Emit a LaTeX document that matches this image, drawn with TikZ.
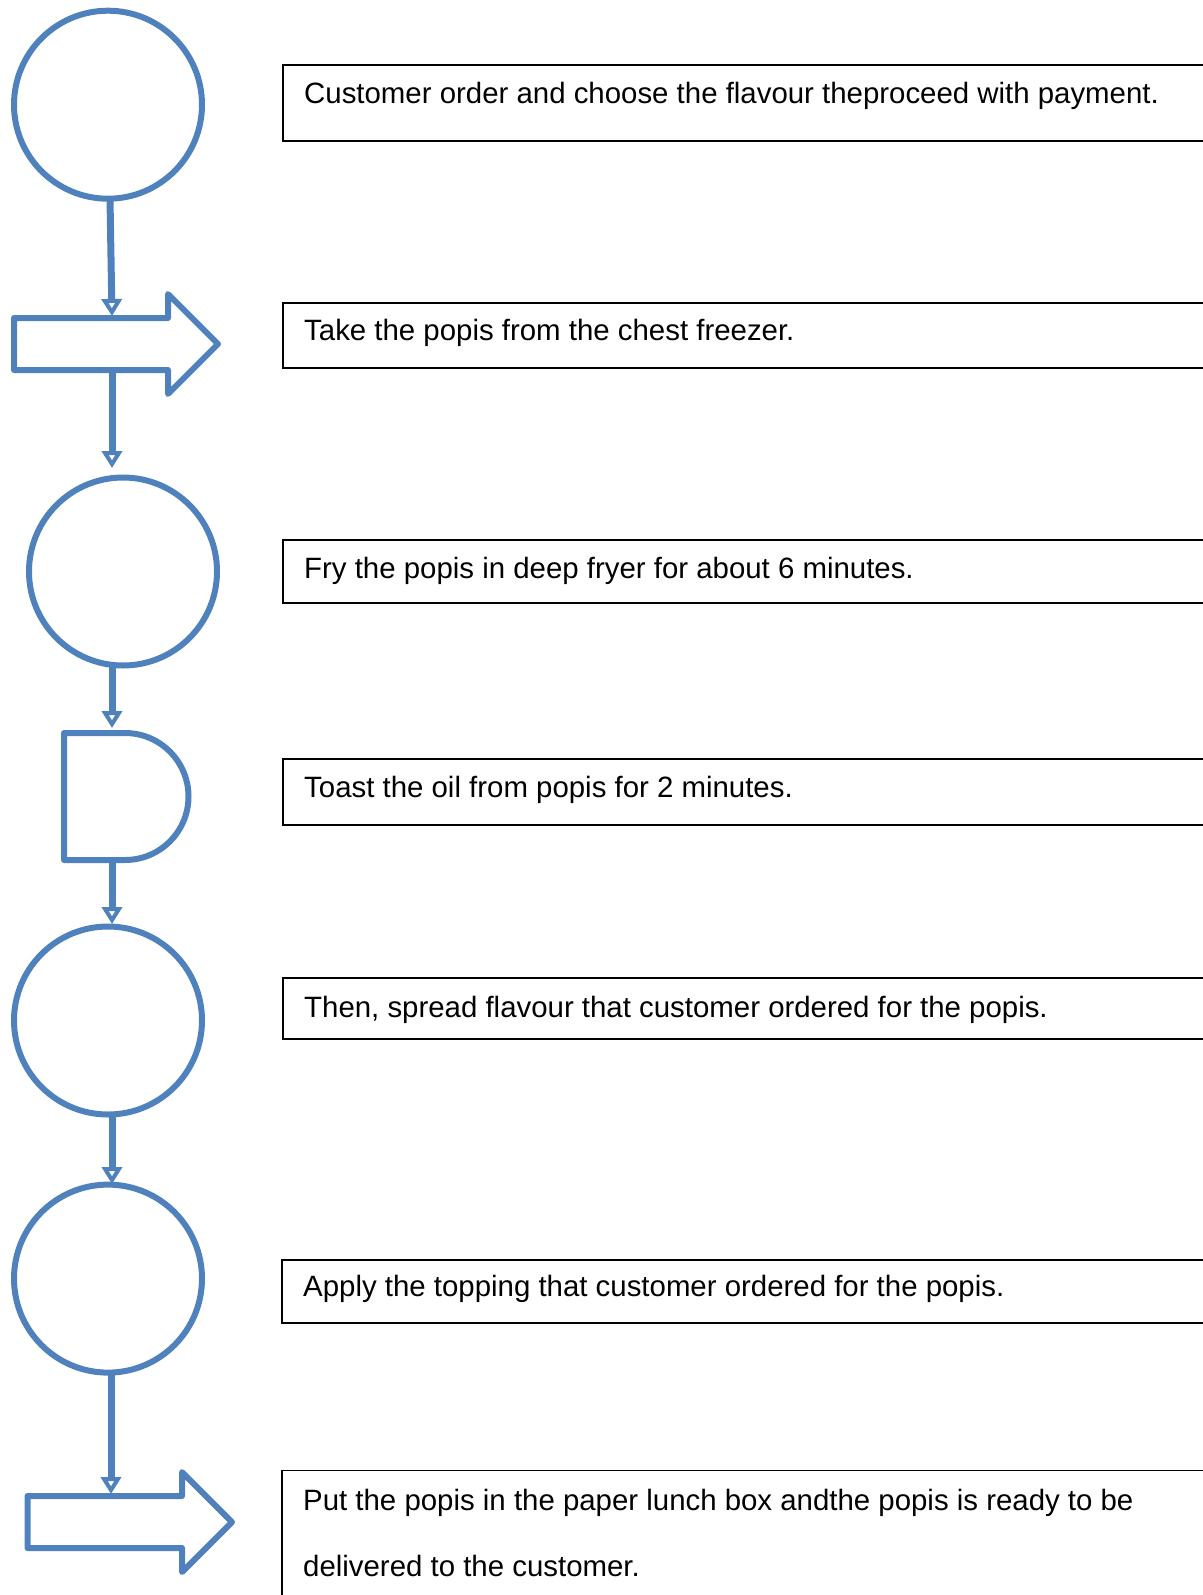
\documentclass[tikz,border=0pt]{standalone}
\usepackage{fontspec}
\setmainfont{Liberation Sans}
\usetikzlibrary{arrows.meta}
\definecolor{flowblue}{RGB}{79,129,189}
\begin{document}
\begin{tikzpicture}[x=1pt,y=-1pt,
  shapeline/.style={draw=flowblue,line width=6pt,line join=round},
  circ/.style={shapeline,circle,minimum size=188pt,inner sep=0pt,outer sep=0pt},
  anchorbox/.style={inner sep=0pt,outer sep=0pt},
  conn/.style={draw=flowblue,line width=7pt,
    -{Triangle[open,length=17pt,width=20pt,line width=4pt]}},
  stepbox/.style={draw=black,line width=1.6pt,minimum width=940pt,inner sep=0pt,outer sep=0pt,anchor=north west},
  txt/.style={anchor=base west,inner sep=0pt,font=\fontsize{29.4pt}{35pt}\selectfont}
]
\useasboundingbox (0,0) rectangle (1202,1595);

% left flow shapes
\node[circ] (c1) at (108,104.7) {};
% block arrow 1 (tail x=14, tip x=218, centre y=344)
\node[anchorbox,minimum width=204pt,minimum height=100pt] (a1) at (116,344) {};
\draw[shapeline] (a1.west) ++(0,-26) -- ++(154,0) -- ++(0,-24) -- (a1.east) -- ++(-50,50) -- ++(0,-24) -- ++(-154,0) -- cycle;
\node[circ] (c2) at (123,571.5) {};
\node[anchorbox,minimum width=124.5pt,minimum height=127pt] (d) at (126.25,796.5) {};
\draw[shapeline] (d.north west) -- ++(61,0) arc[start angle=90,end angle=-90,radius=63.5pt] -- (d.south west) -- cycle;
\node[circ] (c3) at (108,1020.5) {};
\node[circ] (c4) at (108,1278.6) {};
% block arrow 2 (tail x=27.5, tip x=232, centre y=1522)
\node[anchorbox,minimum width=204.5pt,minimum height=100pt] (a2) at (129.75,1522) {};
\draw[shapeline] (a2.west) ++(0,-26) -- ++(154.5,0) -- ++(0,-24) -- (a2.east) -- ++(-50,50) -- ++(0,-24) -- ++(-154.5,0) -- cycle;

% connector end points
\coordinate (k1) at (112,316);
\coordinate (k2s) at (112,370);
\coordinate (k2) at (112,468);
\coordinate (k3s) at (112,665);
\coordinate (k3) at (112,728);
\coordinate (k4s) at (112,860);
\coordinate (k4) at (112,924);
\coordinate (k5s) at (112,1116);
\coordinate (k5) at (112,1184);
\coordinate (k6s) at (111,1372);
\coordinate (k6) at (111,1494);

\draw[conn] (c1.south) ++(2,0) -- (k1);
\draw[conn] (k2s) -- (k2);
\draw[conn] (k3s) -- (k3);
\draw[conn] (k4s) -- (k4);
\draw[conn] (k5s) -- (k5);
\draw[conn] (k6s) -- (k6);

% text boxes
\node[stepbox,minimum height=76pt] (b1) at (283,65) {};
\node[txt] (t1) at (304,103) {Customer order and choose the flavour theproceed with payment.};
\node[stepbox,minimum height=65pt] (b2) at (283,303) {};
\node[txt] (t2) at (304,340.5) {Take the popis from the chest freezer.};
\node[stepbox,minimum height=63pt] (b3) at (283,540) {};
\node[txt] (t3) at (304,578) {Fry the popis in deep fryer for about 6 minutes.};
\node[stepbox,minimum height=66pt] (b4) at (283,759) {};
\node[txt] (t4) at (304,797.5) {Toast the oil from popis for 2 minutes.};
\node[stepbox,minimum height=61pt] (b5) at (283,978) {};
\node[txt] (t5) at (304,1017.5) {Then, spread flavour that customer ordered for the popis.};
\node[stepbox,minimum height=63pt] (b6) at (282,1260) {};
\node[txt] (t6) at (303,1296) {Apply the topping that customer ordered for the popis.};
\node[stepbox,minimum height=150pt] (b7) at (282,1470.5) {};
\node[txt] (t7a) at (303,1510.5) {Put the popis in the paper lunch box andthe popis is ready to be};
\node[txt] (t7b) at (303,1576.5) {delivered to the customer.};
\end{tikzpicture}
\end{document}
